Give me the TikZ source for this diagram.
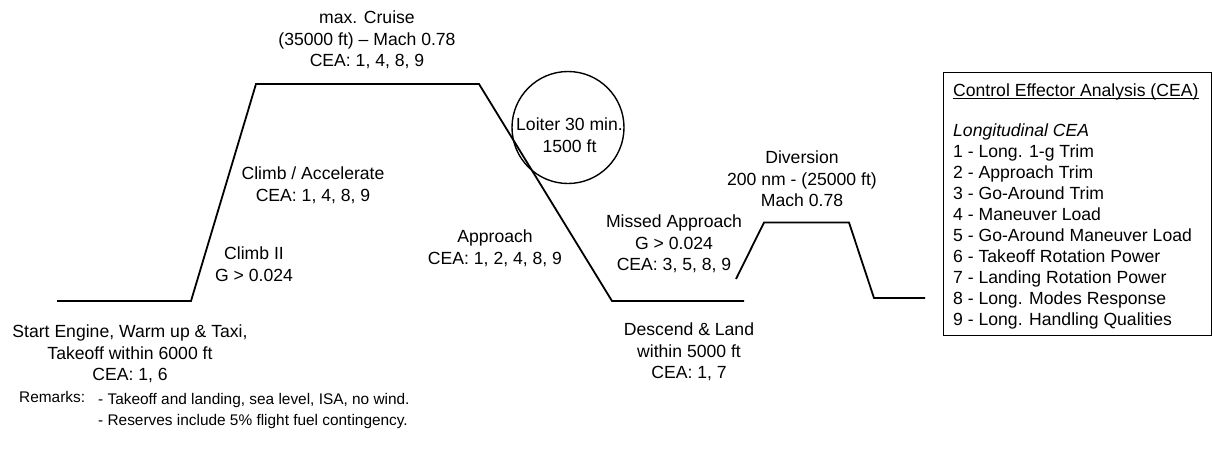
\documentclass[tikz,border=0pt]{standalone}
\usepackage{fontspec}
\setmainfont{Liberation Sans}
\begin{document}
\begin{tikzpicture}[x=1pt,y=-1pt,
  lbl/.style={font=\fontsize{17.6}{21.5}\selectfont, align=center, inner sep=0pt},
  item/.style={font=\fontsize{17.6}{21}\selectfont, inner sep=0pt, anchor=base west},
  rmk/.style={font=\fontsize{15.4}{21}\selectfont, inner sep=0pt, anchor=base west},
  profile/.style={line width=1.8pt, line join=miter},
  thin/.style={line width=1.4pt}
]
\useasboundingbox (0,0) rectangle (1213,450);

% mission profile: main leg
\coordinate (g0) at (57,301);
\coordinate (c0) at (191,301);
\coordinate (c1) at (256,84);
\coordinate (d0) at (479,84);
\coordinate (d1) at (612,301);
\coordinate (g1) at (744,301);
\draw[profile] (g0) -- (c0) -- (c1) -- (d0) -- (d1) -- (g1);

% mission profile: missed approach and diversion
\coordinate (m0) at (736,279);
\coordinate (m1) at (764,222.5);
\coordinate (m2) at (849,222.5);
\coordinate (m3) at (874,298);
\coordinate (m4) at (925,298);
\draw[profile] (m0) -- (m1) -- (m2) -- (m3) -- (m4);

% loiter circle
\node[circle, draw, thin, minimum size=112pt, inner sep=0pt] (loiter) at (568,127.5) {};
\node[lbl] (loitertxt) at (569.5,135) {Loiter 30 min.\\1500 ft};

% phase labels
\node[lbl] (cruise) at (367,40) {max. Cruise\\(35000 ft) – Mach 0.78\\CEA: 1, 4, 8, 9};
\node[lbl] (climbacc) at (313,185) {Climb / Accelerate\\CEA: 1, 4, 8, 9};
\node[lbl] (climbtwo) at (254,264) {Climb II\\G > 0.024};
\node[lbl] (approach) at (495,248) {Approach\\CEA: 1, 2, 4, 8, 9};
\node[lbl] (start) at (130,354) {Start Engine, Warm up \& Taxi,\\Takeoff within 6000 ft\\CEA: 1, 6};
\node[lbl] (land) at (689,352) {Descend \& Land\\within 5000 ft\\CEA: 1, 7};
\node[lbl] (missed) at (674,244) {Missed Approach\\G > 0.024\\CEA: 3, 5, 8, 9};
\node[lbl] (divert) at (802,179) {Diversion\\200 nm - (25000 ft)\\Mach 0.78};

% legend box
\node[draw, thin, minimum width=268pt, minimum height=263pt, inner sep=0pt,
      anchor=north west] (cea) at (943,72) {};
\node[item] (ceatitle) at (953,96) {Control Effector Analysis (CEA)};
\draw[line width=1pt] ([yshift=-2.2pt]ceatitle.base west) -- ([yshift=-2.2pt]ceatitle.base east);
\node[item] (ceasub) at (953,136) {\itshape Longitudinal CEA};
\foreach \t [count=\i] in {1 - Long. 1-g Trim, 2 - Approach Trim, 3 - Go-Around Trim,
    4 - Maneuver Load, 5 - Go-Around Maneuver Load, 6 - Takeoff Rotation Power,
    7 - Landing Rotation Power, 8 - Long. Modes Response, 9 - Long. Handling Qualities}
  \node[item] (ceaitem\i) at (953,{136+21*\i}) {\t};

% remarks
\node[rmk] (remarks) at (19,402.5) {Remarks:};
\node[rmk] (remarkone) at (98,404.5) {- Takeoff and landing, sea level, ISA, no wind.};
\node[rmk] (remarktwo) at (98,425.5) {- Reserves include 5\% flight fuel contingency.};
\end{tikzpicture}
\end{document}
